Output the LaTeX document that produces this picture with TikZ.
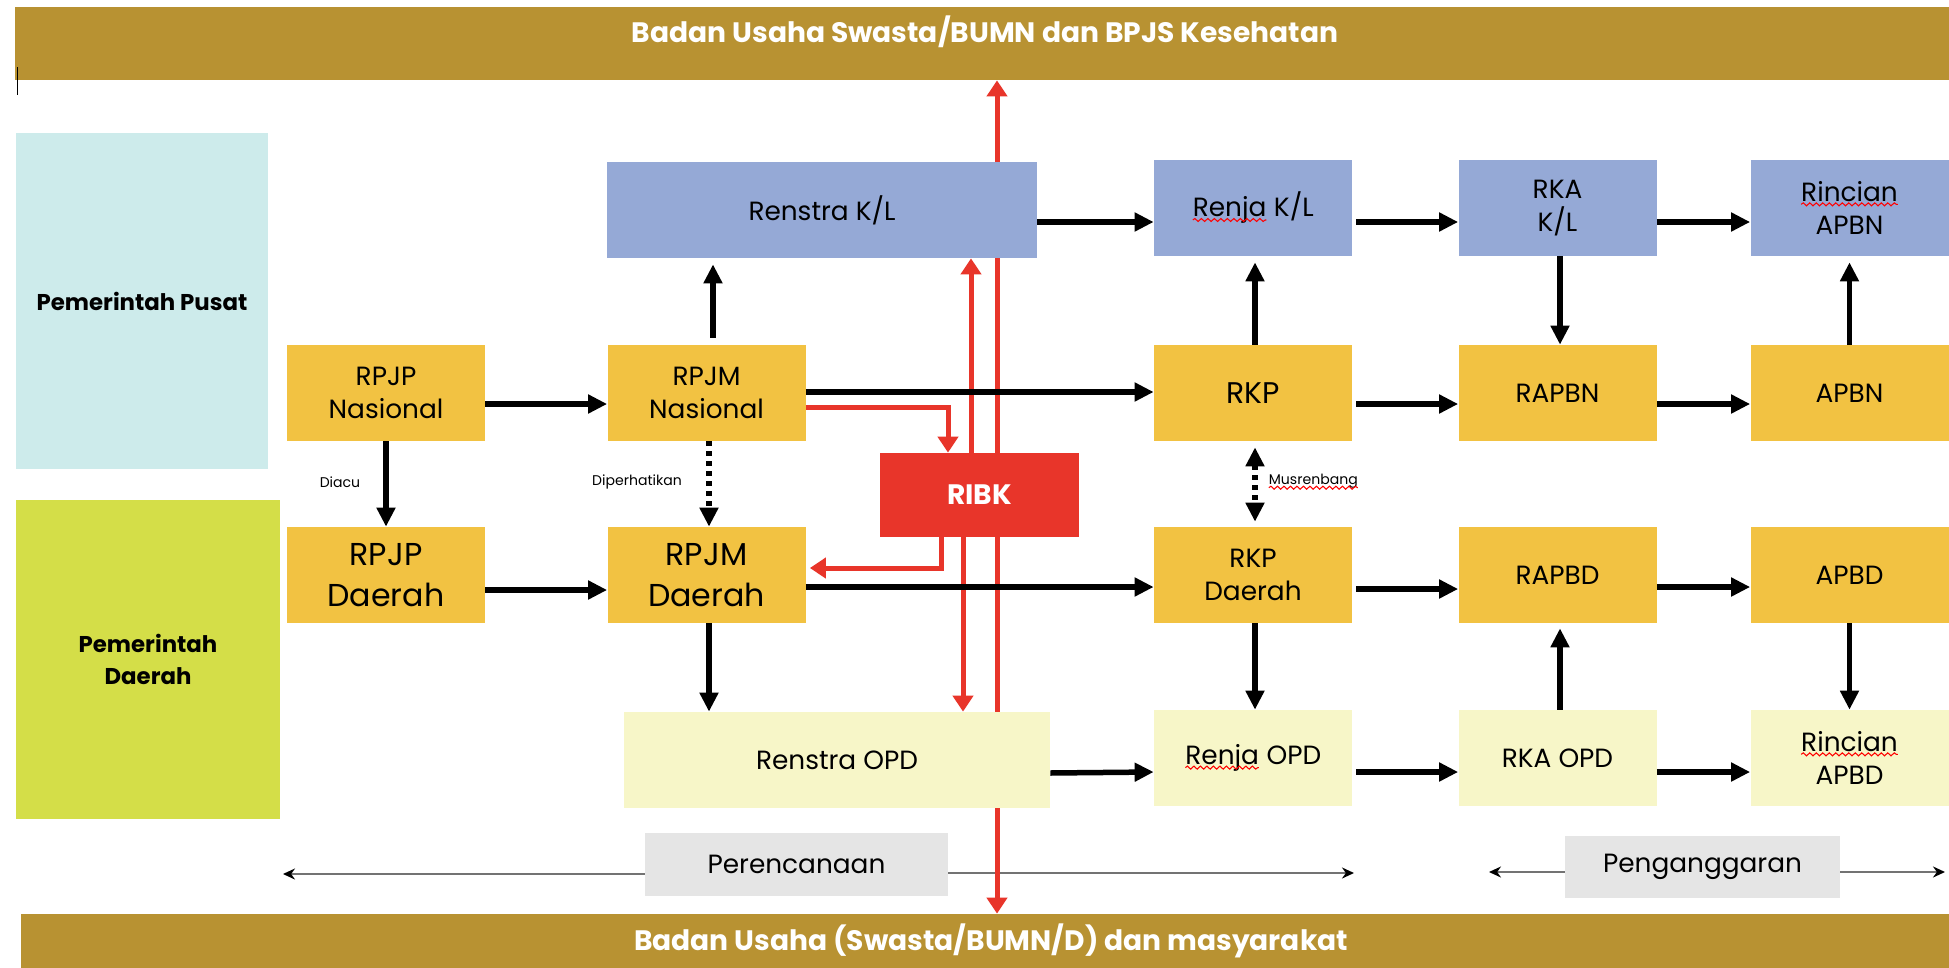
\documentclass[tikz,border=0pt]{standalone}
\usepackage{fontspec}
\setmainfont{Poppins}
\usepackage{tikz}
\usetikzlibrary{arrows.meta,calc,positioning,decorations.pathmorphing}
\definecolor{goldbar}{HTML}{B89232}
\definecolor{pusatcyan}{HTML}{CDEBEB}
\definecolor{daerahlime}{HTML}{D4DE48}
\definecolor{klblue}{HTML}{95A9D6}
\definecolor{planorange}{HTML}{F2C242}
\definecolor{opdcream}{HTML}{F7F6C8}
\definecolor{ribkred}{HTML}{E8352A}
\definecolor{tagfill}{HTML}{E5E5E5}
% red wavy underline (spell-check marks)
\newcommand{\squig}[1]{\tikz[x=1cm, y=1cm, baseline=(w.base)]{%
  \node[shape=rectangle, inner sep=0pt, outer sep=0pt, minimum width=0pt, minimum height=0pt, fill=none, draw=none] (w) {#1};
  \draw[red, line width=0.6pt, decorate, decoration={snake, amplitude=0.3mm, segment length=1.3mm}]
    ([yshift=-0.6mm]w.base west) -- ([yshift=-0.6mm]w.base east);}}
\tikzset{
  box/.style={rectangle, inner sep=0pt, align=center, minimum width=39.6mm, minimum height=19.2mm, font=\fontsize{15}{19}\selectfont},
  planbox/.style={box, fill=planorange},
  klbox/.style={box, fill=klblue},
  opdbox/.style={box, fill=opdcream},
  bigplan/.style={planbox, font=\fontsize{18}{23}\selectfont},
  regionbox/.style={rectangle, inner sep=0pt, align=center, font=\bfseries\fontsize{13}{18}\selectfont},
  bar/.style={rectangle, fill=goldbar, inner sep=0pt},
  bartext/.style={text=white, inner sep=0pt, font=\bfseries\fontsize{16}{18}\selectfont},
  tag/.style={rectangle, fill=tagfill, inner sep=0pt, font=\fontsize{15}{18}\selectfont},
  note/.style={inner sep=0pt, font=\fontsize{8}{10}\selectfont},
  flow/.style={-{Triangle[length=3.8mm,width=3.6mm]}, line width=1.1mm},
  dotflow/.style={flow, dash pattern=on 1mm off 1mm},
  redflow/.style={-{Triangle[length=3.2mm,width=4mm]}, draw=ribkred, line width=1mm},
  redboth/.style={redflow, {Triangle[length=3.2mm,width=4mm]}-{Triangle[length=3.2mm,width=4mm]}},
  span/.style={-{Stealth[length=2.4mm,width=2.2mm,color=black]}, draw=black!55, line width=0.4mm}
}

\begin{document}
\begin{tikzpicture}[x=0.2mm, y=-0.2mm]
  \fill[white] (0,0) rectangle (1949,968);
  \useasboundingbox (0,0) rectangle (1949,968);
  % bars
  \node[bar, minimum width=386.8mm, minimum height=14.6mm] (topbar) at (982,43.5) {};
  \node[bartext] (toptext) at (985,32) {Badan Usaha Swasta/BUMN dan BPJS Kesehatan};
  \node[bar, minimum width=385.6mm, minimum height=10.8mm] (botbar) at (985,941) {};
  \node[bartext] (bottext) at (991,941) {Badan Usaha (Swasta/BUMN/D) dan masyarakat};
  \draw[line width=0.2mm] (17,67) -- (17,95);
  % planning / budgeting spans
  \node[tag, minimum width=60.6mm, minimum height=12.6mm] (perenc) at (796.5,864.5) {Perencanaan};
  \node[tag, minimum width=55mm, minimum height=12.4mm] (pengang) at (1702.5,867) {Penganggaran};
  \coordinate (perencL) at (283,874);
  \coordinate (perencR) at (1354,873);
  \coordinate (pengL) at (1489,872);
  \coordinate (pengR) at (1945,872);
  \draw[span] (perenc.west |- perencL) -- (perencL);
  \draw[span] (perenc.east |- perencR) -- (perencR);
  \draw[span] (pengang.west |- pengL) -- (pengL);
  \draw[span] (pengang.east |- pengR) -- (pengR);
  % main red line
  \coordinate (redx) at (997,0);
  \draw[redboth] (botbar.north -| redx) -- (topbar.south -| redx);
  % regions
  \node[regionbox, fill=pusatcyan, minimum width=50.4mm, minimum height=67.2mm] (pusat) at (142,301) {Pemerintah Pusat};
  \node[regionbox, fill=daerahlime, minimum width=52.8mm, minimum height=63.8mm] (daerah) at (148,659.5) {Pemerintah\\Daerah};
  % planning boxes
  \node[planbox] (rpjpn) at (386,393) {RPJP\\Nasional};
  \node[bigplan] (rpjpd) at (386,575) {RPJP\\Daerah};
  \node[planbox] (rpjmn) at (706.5,393) {RPJM\\Nasional};
  \node[bigplan] (rpjmd) at (706.5,575) {RPJM\\Daerah};
  \node[klbox, minimum width=86mm] (renstrakl) at (822,210) {Renstra K/L};
  \node[opdbox, minimum width=85.2mm] (renstraopd) at (837,760) {Renstra OPD};
  \node[rectangle, fill=ribkred, minimum width=39.8mm, minimum height=16.8mm, text=white, font=\bfseries\fontsize{16}{18}\selectfont] (ribk) at (979.5,495) {RIBK};
  \node[klbox] (renjakl) at (1253,208) {\squig{Renja} K/L};
  \node[klbox] (rkakl) at (1557.5,208) {RKA\\K/L};
  \node[klbox] (rincianapbn) at (1849.5,208) {\squig{Rincian}\\APBN};
  \node[planbox, font=\fontsize{17}{20}\selectfont] (rkp) at (1253,393) {RKP};
  \node[planbox] (rapbn) at (1557.5,393) {RAPBN};
  \node[planbox] (apbn) at (1849.5,393) {APBN};
  \node[planbox] (rkpd) at (1253,575) {RKP\\Daerah};
  \node[planbox] (rapbd) at (1557.5,575) {RAPBD};
  \node[planbox] (apbd) at (1849.5,575) {APBD};
  \node[opdbox] (renjaopd) at (1253,758) {\squig{Renja} OPD};
  \node[opdbox] (rkaopd) at (1557.5,758) {RKA OPD};
  \node[opdbox] (rincianapbd) at (1849.5,758) {\squig{Rincian}\\APBD};
  % small labels
  \node[note] (diacu) at (340,482) {Diacu};
  \node[note] (diperhatikan) at (637,482) {Diperhatikan};
  \node[note, anchor=west] (musrenbang) at (1268,482) {\squig{Musrenbang}};
  % RIBK links
  \draw[redflow] (rpjmn.east |- 0,407) -| (ribk.north -| 948,0);
  \draw[redflow, shorten >=0.8mm] (ribk.south -| 941,0) |- (rpjmd.east |- 0,568);
  \draw[redflow] (ribk.north -| 971,0) -- (renstrakl.south -| 971,0);
  \draw[redflow] (ribk.south -| 963,0) -- (renstraopd.north -| 963,0);
  % black flows, left part
  \draw[flow] (rpjpn.east |- 0,404) -- (rpjmn.west |- 0,404);
  \draw[flow] (rpjpd.east |- 0,590) -- (rpjmd.west |- 0,590);
  \draw[flow] (rpjpn) -- (rpjpd);
  \draw[dotflow] (rpjmn.south -| 709,0) -- (rpjmd.north -| 709,0);
  \draw[flow, shorten >=1.2mm] ([yshift=1.4mm]rpjmn.north -| 713,0) -- (renstrakl.south -| 713,0);
  \draw[flow] (rpjmn.east |- 0,392) -- (rkp.west |- 0,392);
  \draw[flow] (rpjmd.east |- 0,587) -- (rkpd.west |- 0,587);
  \draw[flow] (rpjmd.south -| 709,0) -- (renstraopd.north -| 709,0);
  % black flows, right part
  \draw[flow] (renstrakl.east |- 0,222) -- (renjakl.west |- 0,222);
  \draw[flow, shorten <=0.8mm] (renjakl.east |- 0,222) -- (rkakl.west |- 0,222);
  \draw[flow] (rkakl.east |- 0,222) -- (rincianapbn.west |- 0,222);
  \draw[flow, shorten >=1.2mm] (rkp.north -| 1255,0) -- (renjakl.south -| 1255,0);
  \draw[flow] (rkakl.south -| 1560,0) -- (rapbn.north -| 1560,0);
  \draw[flow, shorten >=1.2mm] (apbn) -- (rincianapbn);
  \draw[flow, shorten <=0.8mm] (rkp.east |- 0,404) -- (rapbn.west |- 0,404);
  \draw[flow] (rapbn.east |- 0,404) -- (apbn.west |- 0,404);
  \draw[dotflow, {Triangle[length=3.8mm,width=3.6mm]}-{Triangle[length=3.8mm,width=3.6mm]}, shorten <=1.2mm, shorten >=1mm] (rkp.south -| 1255,0) -- (rkpd.north -| 1255,0);
  \draw[flow, shorten <=0.8mm] (rkpd.east |- 0,589) -- (rapbd.west |- 0,589);
  \draw[flow] (rapbd.east |- 0,587) -- (apbd.west |- 0,587);
  \draw[flow] (rkpd.south -| 1255,0) -- (renjaopd.north -| 1255,0);
  \draw[flow, shorten >=1mm] (rkaopd.north -| 1560,0) -- (rapbd.south -| 1560,0);
  \draw[flow] (apbd) -- (rincianapbd);
  \draw[flow] (renstraopd.east |- 0,773) -- (renjaopd.west |- 0,772);
  \draw[flow, shorten <=0.8mm] (renjaopd.east |- 0,772) -- (rkaopd.west |- 0,772);
  \draw[flow] (rkaopd.east |- 0,772) -- (rincianapbd.west |- 0,772);
\end{tikzpicture}
\end{document}
